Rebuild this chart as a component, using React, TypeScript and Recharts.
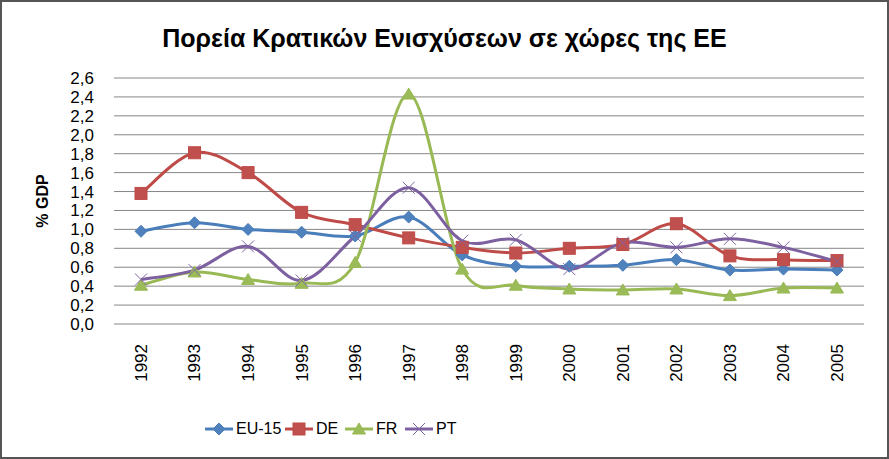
import { LineChart, Line, XAxis, YAxis, CartesianGrid, Legend } from 'recharts';

const years = ['1992', '1993', '1994', '1995', '1996', '1997', '1998', '1999', '2000', '2001', '2002', '2003', '2004', '2005'];
const eu15 = [0.98, 1.07, 1.0, 0.97, 0.93, 1.13, 0.73, 0.61, 0.61, 0.62, 0.68, 0.57, 0.58, 0.57];
const de = [1.38, 1.81, 1.6, 1.18, 1.05, 0.91, 0.81, 0.75, 0.8, 0.84, 1.06, 0.72, 0.68, 0.67];
const fr = [0.41, 0.55, 0.47, 0.43, 0.65, 2.43, 0.58, 0.41, 0.37, 0.36, 0.37, 0.3, 0.38, 0.38];
const pt = [0.47, 0.57, 0.82, 0.46, 0.93, 1.44, 0.88, 0.89, 0.58, 0.86, 0.81, 0.9, 0.81, 0.66];
const yTicks = [0, 0.2, 0.4, 0.6, 0.8, 1.0, 1.2, 1.4, 1.6, 1.8, 2.0, 2.2, 2.4, 2.6];

const data = years.map((year, i) => ({ year, 'EU-15': eu15[i], DE: de[i], FR: fr[i], PT: pt[i] }));

const FONT = '"Liberation Sans", Arial, sans-serif';
const BLUE = '#4A7EBB';
const RED = '#BE4B48';
const GREEN = '#98B954';
const PURPLE = '#7D60A0';

// excel-ish smoothed line (bezier, tension 1/6)
function excelCurve(context: any) {
  let pts: number[][] = [];
  return {
    areaStart() {},
    areaEnd() {},
    lineStart() {
      pts = [];
    },
    point(x: number, y: number) {
      pts.push([+x, +y]);
    },
    lineEnd() {
      const n = pts.length;
      if (!n) return;
      context.moveTo(pts[0][0], pts[0][1]);
      for (let i = 0; i < n - 1; i++) {
        const p0 = pts[Math.max(i - 1, 0)];
        const p1 = pts[i];
        const p2 = pts[i + 1];
        const p3 = pts[Math.min(i + 2, n - 1)];
        context.bezierCurveTo(
          p1[0] + (p2[0] - p0[0]) / 6,
          p1[1] + (p2[1] - p0[1]) / 6,
          p2[0] - (p3[0] - p1[0]) / 6,
          p2[1] - (p3[1] - p1[1]) / 6,
          p2[0],
          p2[1]
        );
      }
    },
  };
}

function Marker({ kind, cx, cy }: { kind: string; cx: number; cy: number }) {
  if (kind === 'diamond') {
    return <polygon points={`${cx},${cy - 6} ${cx + 6},${cy} ${cx},${cy + 6} ${cx - 6},${cy}`} fill="#4F81BD" stroke={BLUE} />;
  }
  if (kind === 'square') {
    return <rect x={cx - 6} y={cy - 6} width={12} height={12} fill="#C0504D" stroke={RED} />;
  }
  if (kind === 'triangle') {
    return <polygon points={`${cx},${cy - 6} ${cx + 6.5},${cy + 5} ${cx - 6.5},${cy + 5}`} fill="#9BBB59" stroke={GREEN} />;
  }
  return (
    <g stroke="#8064A2" strokeWidth={1}>
      <line x1={cx - 6} y1={cy - 6} x2={cx + 6} y2={cy + 6} />
      <line x1={cx - 6} y1={cy + 6} x2={cx + 6} y2={cy - 6} />
    </g>
  );
}

const dotFor = (kind: string) => (props: any) => <Marker key={`${kind}-${props.index}`} kind={kind} cx={props.cx} cy={props.cy} />;

const series = [
  { key: 'EU-15', color: BLUE, kind: 'diamond', w: 80 },
  { key: 'DE', color: RED, kind: 'square', w: 60 },
  { key: 'FR', color: GREEN, kind: 'triangle', w: 60 },
  { key: 'PT', color: PURPLE, kind: 'x', w: 60 },
];

function YearTick(props: any) {
  const { x, y, payload } = props;
  return (
    <text x={x} y={y} dy="0.35em" transform={`rotate(-90 ${x} ${y})`} textAnchor="end" fill="#000" fontSize={17} fontFamily={FONT}>
      {payload.value}
    </text>
  );
}

function LegendContent() {
  return (
    <div style={{ display: 'flex', alignItems: 'center', fontFamily: FONT, fontSize: 16, paddingLeft: 205, whiteSpace: 'nowrap' }}>
      {series.map((s) => (
        <div key={s.key} style={{ display: 'flex', alignItems: 'center', gap: 3, width: s.w, flexShrink: 0 }}>
          <svg width={28} height={16} style={{ flexShrink: 0 }}>
            <line x1={0} y1={8} x2={28} y2={8} stroke={s.color} strokeWidth={3} />
            <Marker kind={s.kind} cx={14} cy={8} />
          </svg>
          <span style={{ whiteSpace: 'nowrap' }}>{s.key}</span>
        </div>
      ))}
    </div>
  );
}

export default function App() {
  return (
    <div style={{ position: 'absolute', left: 0, top: 0, width: 889, height: 459, background: '#fff' }}>
      <LineChart width={889} height={459} data={data} margin={{ top: 78, right: 25, bottom: 9, left: 0 }}>
        <CartesianGrid vertical={false} stroke="#868686" strokeWidth={1} />
        <XAxis
          dataKey="year"
          axisLine={false}
          tickLine={false}
          interval={0}
          height={96}
          padding={{ left: 27, right: 27 }}
          tick={<YearTick />}
          tickMargin={14}
        />
        <YAxis
          domain={[0, 2.6]}
          ticks={yTicks}
          interval={0}
          width={114}
          axisLine={false}
          tickLine={false}
          tickMargin={14}
          tickFormatter={(v: number) => v.toFixed(1).replace('.', ',')}
          tick={{ fill: '#000', fontSize: 17, fontFamily: FONT }}
        />
        <Legend verticalAlign="bottom" height={30} content={<LegendContent />} />
        {series.map((s) => (
          <Line
            key={s.key}
            dataKey={s.key}
            type={excelCurve as any}
            stroke={s.color}
            strokeWidth={3}
            dot={dotFor(s.kind)}
            activeDot={false}
            isAnimationActive={false}
          />
        ))}
      </LineChart>
      <div style={{ position: 'absolute', left: 0, width: 889, top: 24, textAlign: 'center', fontFamily: FONT, fontWeight: 'bold', fontSize: 25 }}>
        Πορεία Κρατικών Ενισχύσεων σε χώρες της ΕΕ
      </div>
      <div
        style={{
          position: 'absolute',
          left: 43,
          top: 201,
          transform: 'translate(-50%, -50%) rotate(-90deg)',
          fontFamily: FONT,
          fontWeight: 'bold',
          fontSize: 16,
          whiteSpace: 'nowrap',
        }}
      >
        % GDP
      </div>
      <div style={{ position: 'absolute', inset: 0, border: '2px solid #555', pointerEvents: 'none' }} />
    </div>
  );
}
